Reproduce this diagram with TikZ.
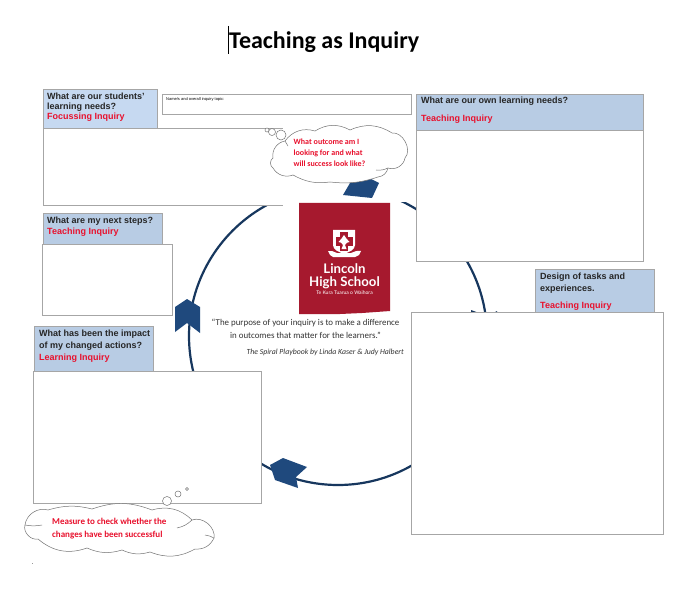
\documentclass[tikz,border=0pt]{standalone}
\usepackage{fontspec}
\setmainfont{Liberation Sans}
\newfontfamily\calib{Carlito}
\newfontfamily\logofont{Lato}
\usetikzlibrary{shapes.symbols}
\definecolor{hdrA}{HTML}{C6D9F1}
\definecolor{hdrB}{HTML}{B8CCE4}
\definecolor{navy}{HTML}{1F497D}
\definecolor{ringc}{HTML}{17375E}
\definecolor{logored}{HTML}{A6192E}
\definecolor{edge}{HTML}{A6A6A6}
\definecolor{inq}{HTML}{E8112D}
\tikzset{
  x=1pt,y=-1pt,
  bodybox/.style={draw=edge,fill=white,line width=0.9pt,inner sep=0},
  hdr/.style={draw=edge,line width=0.9pt,fill=hdrB},
  htext/.style={anchor=north west,inner sep=0,align=left,font=\fontsize{9}{11}\selectfont\bfseries,text=black!85},
  thought/.style={draw=black!55,fill=white,line width=0.5pt},
  lobe/.style={bend left=#1},
  stub/.style={draw=black!55,line width=0.5pt},
  bubble/.style={circle,draw=black!55,fill=white,line width=0.5pt,inner sep=0},
  cloudtext/.style={anchor=north west,inner sep=0,align=left,text=inq,font=\calib\fontsize{8}{10.8}\selectfont\bfseries},
  arrowhead/.style={fill=navy,draw=none},
}
\newcommand{\boxat}[6][bodybox]{\path[#1] (#3,#4) rectangle (#5,#6) node[pos=.5,inner sep=0] (#2) {};}
\begin{document}
\begin{tikzpicture}
\useasboundingbox (0,0) rectangle (696,604);
\fill[white] (0,0) rectangle (696,604);
% title
\node[anchor=west,inner sep=0,font=\calib\fontsize{24}{26}\selectfont\bfseries] (title) at (229,42) {Teaching as Inquiry};
\draw[black,line width=0.7pt] (228,26) -- (228,54);
% ring
\coordinate (ringc) at (338,336);
\draw[ringc,line width=2.2pt] (ringc) circle [radius=149];
% hidden arrow under the big box
\fill[ringc] (471,310) -- (487,316) -- (497,311) -- (497,318) -- (471,318) -- cycle;
% white masks
\fill[white] (282.5,125) rectangle (406,202);
\fill[white] (282.5,202) rectangle (299,206);
% boxes
\boxat{focusbody}{43}{128}{283}{205}
\fill[white] (283,126) rectangle (300,207);
\boxat[hdr,fill=hdrA]{focushdr}{43}{89}{157}{128}
\boxat{namebox}{162}{94}{411}{114}
\boxat{nextbody}{42}{244}{172}{315}
\boxat[hdr]{nexthdr}{43}{213}{162}{244}
\boxat{ownbody}{416}{130}{643}{261}
\boxat[hdr]{ownhdr}{416}{94}{643}{130}
\boxat[hdr]{designhdr}{535}{269}{654}{312}
\boxat{designbody}{411}{312}{663}{534}
\boxat{impactbody}{33}{371}{261}{503}
\boxat[hdr]{impacthdr}{34}{326}{153}{371}
% header texts
\node[htext,font=\fontsize{9}{10.4}\selectfont\bfseries] (t1) at (47,92.3) {What are our students'\\learning needs?\\\textcolor{inq}{Focussing Inquiry}};
\node[anchor=north west,inner sep=0,font=\fontsize{4}{5}\selectfont] (t2) at (166,97) {Name/s and overall inquiry topic:};
\node[htext] (t3) at (47,216.5) {What are my next steps?\\\textcolor{inq}{Teaching Inquiry}};
\node[htext] (t4) at (421,97) {What are our own learning needs?};
\node[htext,text=inq] (t4b) at (421,115) {Teaching Inquiry};
\node[htext,font=\fontsize{9}{11.8}\selectfont\bfseries] (t5) at (540,273) {Design of tasks and\\experiences.};
\node[htext,text=inq] (t5b) at (540,302) {Teaching Inquiry};
\node[htext,font=\fontsize{9}{12.1}\selectfont\bfseries] (t6) at (39,329.7) {What has been the impact\\of my changed actions?\\\textcolor{inq}{Learning Inquiry}};
% arrowheads
\fill[arrowhead] (343,195) -- (372,198) -- (379,183) -- (363,175) -- (350,183) -- cycle;
\fill[arrowhead] (175,307) -- (187,299) -- (200,307) -- (200,333) -- (187,323) -- (175,332) -- cycle;
\fill[arrowhead] (283,458) -- (307,467) -- (296,477) -- (298,488) -- (275,480) -- (270,465) -- cycle;
% logo
\fill[logored] (299,203) -- (390,203) -- (390,311) -- (362,313) -- (340,314) -- (299,314) -- cycle;
\fill[white] (333,230) -- (355,230) -- (355,245) .. controls (355,250) and (349,252) .. (344,254) .. controls (339,252) and (333,250) .. (333,245) -- cycle;
\fill[logored] (340,232.5) rectangle (348,251);
\fill[logored] (335.5,237) rectangle (352.5,246);
\fill[white] (344,235) .. controls (345.5,238) and (347,239) .. (349.5,242) .. controls (347.5,242) and (346,243) .. (345,245) -- (346.5,249) -- (341.5,249) -- (343,245) .. controls (342,243) and (340.5,242) .. (338.5,242) .. controls (341,239) and (342.5,238) .. (344,235) -- cycle;
\fill[white] (328,251) .. controls (331,250) and (334,252) .. (337,253) -- (351,253) .. controls (354,252) and (357,250) .. (361,251) -- (359,255) -- (355,257) -- (333,257) -- (330,255) -- cycle;
\node[inner sep=0,text=white,align=center,font=\logofont\fontsize{13.2}{13}\selectfont\bfseries] (logotext) at (344.5,276) {Lincoln\\High School};
\node[inner sep=0,text=white,font=\logofont\fontsize{5}{6}\selectfont] (logosub) at (344.5,292.5) {Te Kura Tuarua o Waihora};
% quote
\node[inner sep=0,align=center,text=black!80,font=\calib\fontsize{8.9}{12.8}\selectfont] (quote) at (305.5,328.7) {“The purpose of your inquiry is to make a difference\\in outcomes that matter for the learners.”};
\node[inner sep=0,anchor=east,text=black!80,font=\calib\fontsize{7.8}{10}\selectfont\itshape] (source) at (404,352) {The Spiral Playbook by Linda Kaser \& Judy Halbert};
% thought clouds
\path[thought] (285,141) to[lobe=35] (315,131) to[lobe=30] (350,130) to[lobe=28] (392,133)
  to[lobe=70] (405,158) to[lobe=50] (388,168) to[lobe=35] (378,177) to[lobe=12] (330,182)
  to[lobe=18] (293,175) to[lobe=40] (273,168) to[lobe=60] (273,158) to[lobe=45] (285,141) -- cycle;
\draw[stub] (285,141) to[bend left=10] (288,146);
\draw[stub] (388,168) to[bend left=15] (376,170);
\node (cloudA) at (339,155) {};
\node[bubble,minimum size=10] (a1) at (281,135) {};
\node[bubble,minimum size=7] (a2) at (272,132) {};
\node[bubble,minimum size=4] (a3) at (267,130) {};
\node[cloudtext] (ca) at (293.5,139) {What outcome am I\\looking for and what\\will success look like?};
\path[thought] (25,525) to[lobe=50] (48,510) to[lobe=15] (92,509) to[lobe=20] (152,510)
  to[lobe=30] (192,520) to[lobe=60] (214,538) to[lobe=35] (195,549) to[lobe=25] (150,552)
  to[lobe=20] (122,550) to[lobe=20] (87,548) to[lobe=30] (38,539) to[lobe=60] (25,525) -- cycle;
\draw[stub] (25,525) to[bend right=10] (42,525);
\draw[stub] (177,528) to[bend right=15] (192,520);
\draw[stub] (205,535) to[bend left=10] (214,538);
\node (cloudB) at (119.5,529.5) {};
\node[bubble,minimum size=9] (b1) at (167,501) {};
\node[bubble,minimum size=6] (b2) at (178,494) {};
\node[bubble,minimum size=3] (b3) at (187,489) {};
\node[cloudtext,font=\calib\fontsize{9}{12.5}\selectfont\bfseries] (cb) at (52,518) {Measure to check whether the\\changes have been successful};
\fill[black!40] (32,562.5) rectangle (32.7,564);
\end{tikzpicture}
\end{document}
